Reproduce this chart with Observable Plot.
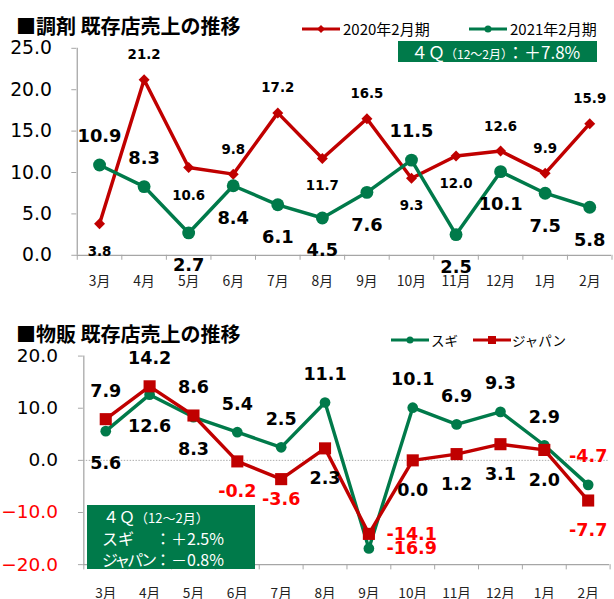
<!DOCTYPE html>
<html><head><meta charset="utf-8">
<script src="https://cdn.jsdelivr.net/npm/d3@7"></script>
<script src="https://cdn.jsdelivr.net/npm/@observablehq/plot@0.6"></script>
<style>
html,body{margin:0;padding:0;background:#fff;}
body{width:614px;height:599px;overflow:hidden;position:relative;font-family:"Noto Sans CJK JP",sans-serif;color:#000;}
.abs{position:absolute;white-space:nowrap;}
.title{font-weight:bold;font-size:20px;line-height:20px;}
.leg{font-size:15px;line-height:16px;}
.box{background:#007A4A;color:#fff;}
svg.sw{position:absolute;overflow:visible;}
#top svg,#bot svg{display:block;}
</style></head><body>
<div id="top" class="abs" style="left:0;top:30px"></div>
<div id="bot" class="abs" style="left:0;top:340px"></div>

<div class="abs title" style="left:16px;top:16px">■調剤 既存店売上の推移</div>
<svg class="sw" style="left:300px;top:22px" width="42" height="14"><line x1="2" x2="40" y1="7" y2="7" stroke="#C00000" stroke-width="3"/><path d="M21,3L25,7L21,11L17,7Z" fill="#C00000"/></svg>
<div class="abs leg" style="left:343px;top:21px">2020年2月期</div>
<svg class="sw" style="left:467px;top:22px" width="42" height="14"><line x1="2" x2="40" y1="7" y2="7" stroke="#007A4A" stroke-width="3"/><circle cx="21" cy="7" r="3.5" fill="#007A4A"/></svg>
<div class="abs leg" style="left:510px;top:21px">2021年2月期</div>
<div class="abs box" style="left:398px;top:41px;width:199px;height:21px;font-size:17px;line-height:21px;padding-left:13px;box-sizing:border-box;">４Ｑ<span style="font-size:12px">（12～2月）</span>：＋7.8%</div>

<div class="abs title" style="left:16px;top:324px">■物販 既存店売上の推移</div>
<svg class="sw" style="left:389px;top:333px" width="42" height="14"><line x1="2" x2="40" y1="7" y2="7" stroke="#007A4A" stroke-width="3"/><circle cx="21" cy="7" r="3.5" fill="#007A4A"/></svg>
<div class="abs leg" style="left:431px;top:332px;font-size:13.5px">スギ</div>
<svg class="sw" style="left:471px;top:333px" width="42" height="14"><line x1="2" x2="40" y1="7" y2="7" stroke="#C00000" stroke-width="3"/><rect x="17" y="3" width="8" height="8" fill="#C00000"/></svg>
<div class="abs leg" style="left:512px;top:332px;font-size:13.5px">ジャパン</div>
<div class="abs box" style="left:87px;top:505px;width:168px;height:64px;font-size:16px;line-height:21px;padding-top:1px;box-sizing:border-box;">
  <div style="padding-left:16px">４Ｑ<span style="font-size:13px">（12～2月）</span></div>
  <div style="display:flex;padding-left:15px"><span style="width:53px">スギ</span><span>：</span><span>＋2.5%</span></div>
  <div style="display:flex;padding-left:15px"><span style="width:53px;letter-spacing:-3px">ジャパン</span><span>：</span><span>－0.8%</span></div>
</div>

<script>
// ---- data ----
const months = ["3月","4月","5月","6月","7月","8月","9月","10月","11月","12月","1月","2月"];
// 調剤
const fy2020 = [3.8, 21.2, 10.6, 9.8, 17.2, 11.7, 16.5, 9.3, 12.0, 12.6, 9.9, 15.9];
const fy2021 = [10.9, 8.3, 2.7, 8.4, 6.1, 4.5, 7.6, 11.5, 2.5, 10.1, 7.5, 5.8];
const fy2020Side = ["below","above","below","above","above","below","above","below","below","above","above","above"];
const fy2021Side = ["above","above","below","below","below","below","below","above","below","below","below","below"];
const topTicks = [0, 5, 10, 15, 20, 25];
// 物販
const sugi  = [5.6, 12.6, 8.3, 5.4, 2.5, 11.1, -16.9, 10.1, 6.9, 9.3, 2.9, -4.7];
const japan = [7.9, 14.2, 8.6, -0.2, -3.6, 2.3, -14.1, 0.0, 1.2, 3.1, 2.0, -7.7];
const sugiSide  = ["below","below","below","above","above","above","right","above","above","above","above","above"];
const japanSide = ["above","above","above","below","near","below","right","below","below","below","below","below"];
const botTicksPos = [0, 10, 20];
const botTicksNeg = [-10, -20];

// ---- styles ----
const RED = "#C00000", GREEN = "#007A4A", AX = "#A6A6A6", NEG = "#FF0000";
const NUM = '"DejaVu Sans", Verdana, sans-serif';
const JP = '"Noto Sans CJK JP", sans-serif';
const rows = (vals, side) => months.map((m, i) => ({month: m, value: vals[i], side: side[i]}));
const fmt = d => d.value.toFixed(1);

function labels(data, {above, below, near, size, color}) {
  const base = {x: "month", y: "value", text: fmt, fontSize: size, fontWeight: "bold", fontFamily: NUM,
    fill: color || (d => d.value < 0 ? NEG : "#000")};
  return [
    Plot.text(data.filter(d => d.side === "above"), {...base, dy: above}),
    Plot.text(data.filter(d => d.side === "below"), {...base, dy: below}),
    Plot.text(data.filter(d => d.side === "near"), {...base, dy: near}),
    Plot.text(data.filter(d => d.side === "right"), {...base, dx: 18, textAnchor: "start"})
  ];
}

// ---- top chart ----
{
  const W = 620, ml = 77, mr = 3;
  const step = (W - ml - mr) / months.length;
  const A = rows(fy2020, fy2020Side), B = rows(fy2021, fy2021Side);
  const p = Plot.plot({
    width: W, height: 270, marginLeft: ml, marginRight: mr, marginTop: 18, marginBottom: 43,
    x: {type: "point", domain: months, padding: 0.5, label: null},
    y: {domain: [0, 25], label: null},
    color: {type: "identity"},
    style: {background: "transparent", overflow: "visible"},
    marks: [
      Plot.ruleY([0], {stroke: AX, strokeWidth: 1.3}),
      Plot.ruleX([months[0]], {dx: -step / 2, y1: 0, y2: 25, stroke: AX, strokeWidth: 1.3}),
      Plot.ruleX(months, {dx: -step / 2, y1: 0, y2: -0.6, stroke: AX}),
      Plot.ruleX([months[months.length - 1]], {dx: step / 2, y1: 0, y2: -0.6, stroke: AX}),
      Plot.axisY({ticks: topTicks, tickFormat: d3.format(".1f"), tickSize: 5, tickPadding: 20, stroke: AX, fill: "#000", fontSize: 19, fontFamily: NUM, label: null}),
      Plot.axisX({tickSize: 0, tickPadding: 21, fontSize: 14, fontFamily: JP, fill: "#222", label: null}),
      Plot.line(A, {x: "month", y: "value", stroke: RED, strokeWidth: 3.5}),
      Plot.dot(A, {x: "month", y: "value", symbol: "diamond2", r: 5, fill: RED}),
      Plot.line(B, {x: "month", y: "value", stroke: GREEN, strokeWidth: 3.5}),
      Plot.dot(B, {x: "month", y: "value", r: 6.5, fill: GREEN}),
      ...labels(A, {above: -25, below: 28, size: 13.5, color: "#000"}),
      ...labels(B, {above: -29, below: 33, size: 18, color: "#000"})
    ]
  });
  document.getElementById("top").append(p);
}

// ---- bottom chart ----
{
  const W = 630, ml = 85, mr = 5;
  const step = (W - ml - mr) / months.length;
  const S = rows(sugi, sugiSide), J = rows(japan, japanSide);
  const p = Plot.plot({
    width: W, height: 265, marginLeft: ml, marginRight: mr, marginTop: 16, marginBottom: 35,
    x: {type: "point", domain: months, padding: 0.5, label: null},
    y: {domain: [-20, 20], label: null},
    color: {type: "identity"},
    style: {background: "transparent", overflow: "visible"},
    marks: [
      Plot.ruleY([0], {stroke: "#AAA", strokeWidth: 1, strokeDasharray: "1.5,1.5"}),
      Plot.ruleY([-20], {stroke: AX, strokeWidth: 1.3}),
      Plot.ruleX([months[0]], {dx: -step / 2, y1: -20, y2: 20, stroke: AX, strokeWidth: 1.3}),
      Plot.ruleX(months, {dx: -step / 2, y1: -20, y2: -21, stroke: AX}),
      Plot.ruleX([months[months.length - 1]], {dx: step / 2, y1: -20, y2: -21, stroke: AX}),
      Plot.axisY({ticks: botTicksPos, tickFormat: d3.format(".1f"), tickSize: 5, tickPadding: 21, stroke: AX, fill: "#000", fontSize: 19, fontFamily: NUM, label: null}),
      Plot.axisY({ticks: botTicksNeg, tickFormat: d3.format(".1f"), tickSize: 5, tickPadding: 21, stroke: AX, fill: NEG, fontSize: 19, fontFamily: NUM, label: null}),
      Plot.axisX({tickSize: 0, tickPadding: 24, fontSize: 14, fontFamily: JP, fill: "#222", label: null}),
      Plot.line(S, {x: "month", y: "value", stroke: GREEN, strokeWidth: 3.5}),
      Plot.dot(S, {x: "month", y: "value", r: 5.5, fill: GREEN}),
      Plot.line(J, {x: "month", y: "value", stroke: RED, strokeWidth: 3.5}),
      Plot.dot(J, {x: "month", y: "value", symbol: "square", r: 7, fill: RED}),
      ...labels(S, {above: -29, below: 33, size: 18}),
      ...labels(J, {above: -29, below: 31, near: 21, size: 18})
    ]
  });
  document.getElementById("bot").append(p);
}
</script>
</body></html>
